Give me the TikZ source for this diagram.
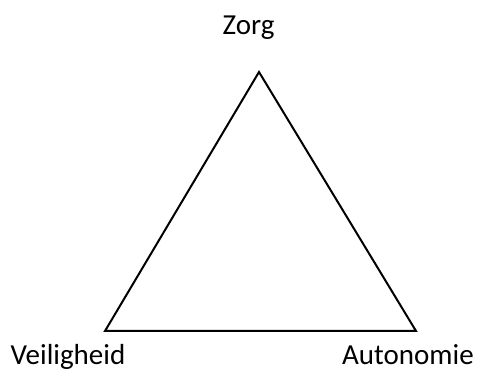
\documentclass[tikz,border=0pt]{standalone}
\usepackage{fontspec}
\setmainfont{Carlito}
\begin{document}
\begin{tikzpicture}[x=1pt,y=1pt,
  lbl/.style={inner sep=0pt,font=\fontsize{29}{32}\selectfont},
  edge/.style={line width=2pt,line join=miter}]
\useasboundingbox (0,0) rectangle (479,372);
\coordinate (top) at (259,300);
\coordinate (bl) at (105,41);
\coordinate (br) at (416,41);
\draw[edge] (top) -- (bl) -- (br) -- cycle;
\node[lbl,anchor=base] (zorg) at (248.5,337) {Zorg};
\node[lbl,anchor=base west] (veil) at (10.5,7) {Veiligheid};
\node[lbl,anchor=base west] (auto) at (342,7) {Autonomie};
\end{tikzpicture}
\end{document}
